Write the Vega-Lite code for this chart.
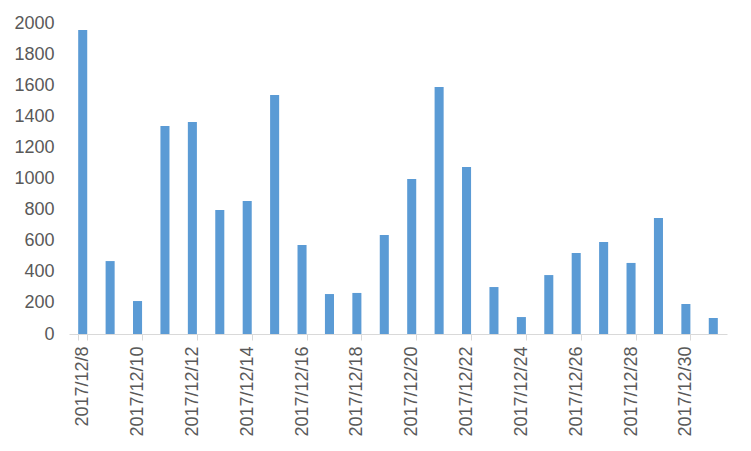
{
  "$schema": "https://vega.github.io/schema/vega-lite/v6.json",
  "width": 658,
  "height": 311,
  "autosize": {"type": "none"},
  "padding": {"left": 69, "top": 23, "right": 24, "bottom": 117},
  "background": "white",
  "config": {"view": {"stroke": null}, "font": "Liberation Sans"},
  "data": {"values": [
    {"date": "2017/12/8", "value": 1955},
    {"date": "2017/12/9", "value": 469},
    {"date": "2017/12/10", "value": 212},
    {"date": "2017/12/11", "value": 1337},
    {"date": "2017/12/12", "value": 1363},
    {"date": "2017/12/13", "value": 797},
    {"date": "2017/12/14", "value": 855},
    {"date": "2017/12/15", "value": 1537},
    {"date": "2017/12/16", "value": 572},
    {"date": "2017/12/17", "value": 257},
    {"date": "2017/12/18", "value": 264},
    {"date": "2017/12/19", "value": 637},
    {"date": "2017/12/20", "value": 997},
    {"date": "2017/12/21", "value": 1588},
    {"date": "2017/12/22", "value": 1074},
    {"date": "2017/12/23", "value": 302},
    {"date": "2017/12/24", "value": 109},
    {"date": "2017/12/25", "value": 379},
    {"date": "2017/12/26", "value": 521},
    {"date": "2017/12/27", "value": 592},
    {"date": "2017/12/28", "value": 457},
    {"date": "2017/12/29", "value": 746},
    {"date": "2017/12/30", "value": 193},
    {"date": "2017/12/31", "value": 103}
  ]},
  "mark": {"type": "bar", "color": "#5B9BD5"},
  "encoding": {
    "x": {
      "field": "date",
      "type": "nominal",
      "sort": null,
      "scale": {"paddingInner": 0.67, "paddingOuter": 0.335},
      "axis": {
        "title": null,
        "values": ["2017/12/8", "2017/12/10", "2017/12/12", "2017/12/14", "2017/12/16", "2017/12/18", "2017/12/20", "2017/12/22", "2017/12/24", "2017/12/26", "2017/12/28", "2017/12/30"],
        "tickBand": "extent",
        "labelAngle": -90,
        "labelAlign": "right",
        "labelBaseline": "middle",
        "labelFontSize": 18,
        "labelColor": "#595959",
        "labelPadding": 6,
        "domainColor": "#D9D9D9",
        "tickColor": "#D9D9D9",
        "tickSize": 6,
        "grid": false
      }
    },
    "y": {
      "field": "value",
      "type": "quantitative",
      "scale": {"domain": [0, 2000], "nice": false},
      "axis": {
        "title": null,
        "format": "d",
        "values": [0, 200, 400, 600, 800, 1000, 1200, 1400, 1600, 1800, 2000],
        "grid": false,
        "domain": false,
        "ticks": false,
        "labelFontSize": 18,
        "labelColor": "#595959",
        "labelPadding": 15
      }
    }
  }
}
